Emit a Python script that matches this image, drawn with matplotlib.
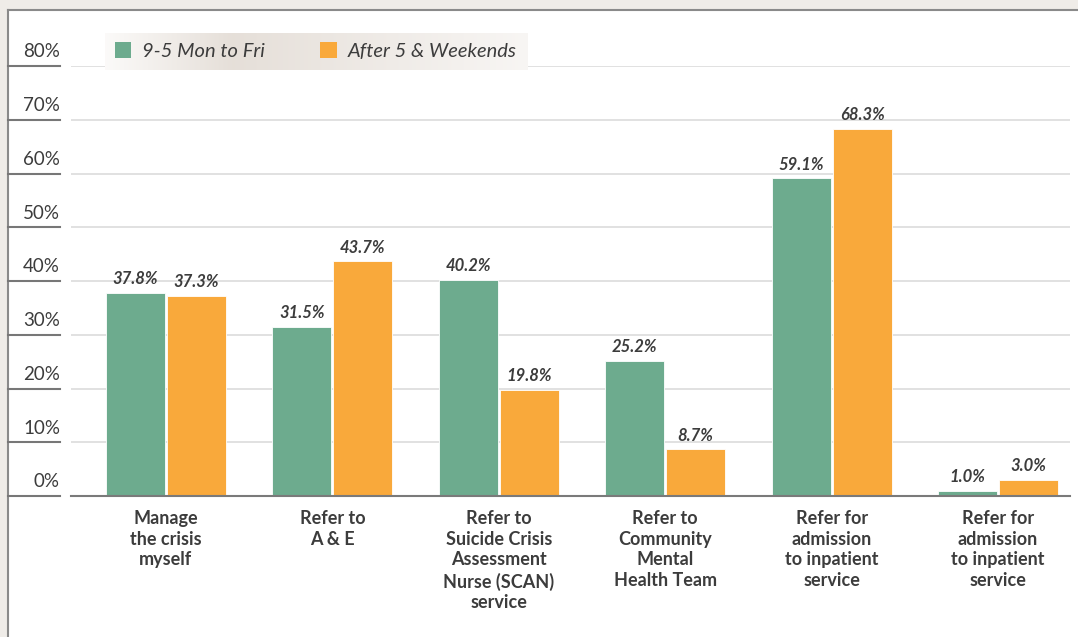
import matplotlib
matplotlib.use("Agg")
import matplotlib.pyplot as plt
import numpy as np
from matplotlib.patches import Patch
from matplotlib.lines import Line2D

categories = ["Manage\nthe crisis\nmyself", "Refer to\nA & E",
              "Refer to\nSuicide Crisis\nAssessment\nNurse (SCAN)\nservice",
              "Refer to\nCommunity\nMental\nHealth Team",
              "Refer for\nadmission\nto inpatient\nservice",
              "Refer for\nadmission\nto inpatient\nservice"]
series_names = ["9-5 Mon to Fri", "After 5 & Weekends"]
weekday = [37.8, 31.5, 40.2, 25.2, 59.1, 1.0]
after_hours = [37.3, 43.7, 19.8, 8.7, 68.3, 3.0]
yticks = [0, 10, 20, 30, 40, 50, 60, 70, 80]
ytick_labels = ["0%", "10%", "20%", "30%", "40%", "50%", "60%", "70%", "80%"]

GREEN = "#6dab8e"
ORANGE = "#f9a93b"
TEXT = "#3c3c3c"
FONT = "Lato"

W, H = 1078, 637
fig = plt.figure(figsize=(W / 100, H / 100), dpi=100)
fig.patch.set_facecolor("#efece8")

# white panel with frame
panel = fig.add_axes([8 / W, 0, 1 - 8 / W, (H - 10) / H])
panel.set_facecolor("white")
panel.set_xticks([]); panel.set_yticks([])
for s in ["bottom", "right"]:
    panel.spines[s].set_visible(False)
for s in ["left", "top"]:
    panel.spines[s].set_color("#8a8a8a")
    panel.spines[s].set_linewidth(1.5)

px_l, px_r = 71, 1070
px_b, px_t = 496, 66
ax = fig.add_axes([px_l / W, (H - px_b) / H, (px_r - px_l) / W, (px_b - px_t) / H])
ax.patch.set_alpha(0)
x = np.arange(len(categories))
c0 = 166.0; step = 166.4
ax.set_xlim((px_l - c0) / step, (px_r - c0) / step)
ax.set_ylim(0, 80)

bw = 0.355
off = 0.183
b1 = ax.bar(x - off, weekday, bw, color=GREEN, edgecolor="white", linewidth=0.6, zorder=3)
b2 = ax.bar(x + off, after_hours, bw, color=ORANGE, edgecolor="white", linewidth=0.6, zorder=3)

for bars, vals in ((b1, weekday), (b2, after_hours)):
    for r, v in zip(bars, vals):
        ax.annotate(f"{v:.1f}%", (r.get_x() + r.get_width() / 2, v),
                    xytext=(0, 4), textcoords="offset points", ha="center", va="bottom",
                    fontsize=12, fontstyle="italic", fontweight="bold", color=TEXT,
                    family=FONT, zorder=4)

ax.set_yticks(yticks)
ax.yaxis.grid(True, color="#dcdcdc", linewidth=1.2, zorder=0)
ax.tick_params(axis="y", length=0, labelleft=False)
ax.tick_params(axis="x", length=0, labelbottom=False)
for s in ["left", "right", "top"]:
    ax.spines[s].set_visible(False)
ax.spines["bottom"].set_color("#7a7a7a")
ax.spines["bottom"].set_linewidth(1.5)
ax.spines["bottom"].set_zorder(5)

# y labels with short dark rules on the left
tr = ax.get_yaxis_transform()
for v, lab in zip(yticks, ytick_labels):
    ax.add_line(Line2D([(8 - px_l) / (px_r - px_l), (60 - px_l) / (px_r - px_l)], [v, v],
                       transform=tr, color="#777777", linewidth=1.5, clip_on=False))
    ax.annotate(lab, ((60 - px_l) / (px_r - px_l), v), xycoords=tr,
                xytext=(0, 4), textcoords="offset points", ha="right", va="bottom",
                fontsize=13.5, color=TEXT, family=FONT, annotation_clip=False)

# category labels
for xi, lab in zip(x, categories):
    ax.annotate(lab, (xi, 0), xycoords=("data", "data"), xytext=(0, -10),
                textcoords="offset points", ha="center", va="top", fontsize=13,
                fontweight="bold", color=TEXT, family=FONT, linespacing=1.27,
                annotation_clip=False)

# legend background gradient
lg = fig.add_axes([105 / W, (H - 70) / H, 423 / W, 37 / H])
t = np.linspace(0, 1, 200)
peak = 0.3
g = np.where(t < peak, t / peak, 1 - (t - peak) / (1 - peak) * 0.85)
c_lo = np.array([0.985, 0.98, 0.975]); c_hi = np.array([0.90, 0.875, 0.85])
img = c_lo[None, :] + (c_hi - c_lo)[None, :] * g[:, None]
lg.imshow(img[None, :, :], aspect="auto", extent=[0, 1, 0, 1])
lg.axis("off")

handles = [Patch(facecolor=GREEN, edgecolor="none"), Patch(facecolor=ORANGE, edgecolor="none")]
leg = fig.legend(handles, series_names, loc="center left",
                 bbox_to_anchor=(115 / W, (H - 51) / H), ncol=2, frameon=False,
                 borderpad=0, borderaxespad=0,
                 handlelength=0.8, handleheight=0.8, handletextpad=0.55, columnspacing=2.75,
                 prop={"family": FONT, "size": 14.5, "style": "italic"})
for txt in leg.get_texts():
    txt.set_color(TEXT)

fig.savefig("out.png", dpi=100)
